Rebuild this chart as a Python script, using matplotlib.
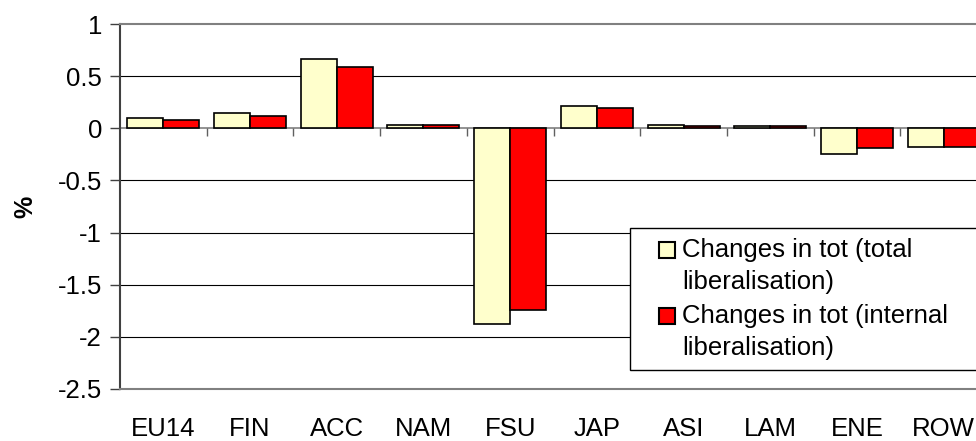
import numpy as np
import matplotlib
matplotlib.use("Agg")
import matplotlib.pyplot as plt
from matplotlib.patches import Rectangle
from matplotlib.legend_handler import HandlerPatch
from matplotlib.container import BarContainer

plt.rcParams['font.family'] = ['Liberation Sans', 'DejaVu Sans']

categories = ["EU14", "FIN", "ACC", "NAM", "FSU", "JAP", "ASI", "LAM", "ENE", "ROW"]
total_lib = [0.10, 0.15, 0.66, 0.03, -1.88, 0.21, 0.03, 0.02, -0.25, -0.18]
internal_lib = [0.08, 0.12, 0.59, 0.03, -1.74, 0.19, 0.02, 0.02, -0.19, -0.18]
series_labels = ["Changes in tot (total\nliberalisation)",
                 "Changes in tot (internal\nliberalisation)"]
yticks = [-2.5, -2, -1.5, -1, -0.5, 0, 0.5, 1]
ytick_labels = ["-2.5", "-2", "-1.5", "-1", "-0.5", "0", "0.5", "1"]

W, H = 976, 441
FS = 18.5
fig = plt.figure(figsize=(W / 100, H / 100), dpi=100)
ax = fig.add_axes([120 / W, (H - 389) / H, 867 / W, 365 / H])

x = np.arange(len(categories))
bw = 0.415
ax.bar(x - bw / 2, total_lib, width=bw, color="#FFFFCC", edgecolor="black",
       linewidth=1.2, label=series_labels[0], zorder=3)
ax.bar(x + bw / 2, internal_lib, width=bw, color="#FF0000", edgecolor="black",
       linewidth=1.2, label=series_labels[1], zorder=3)

ax.set_xlim(-0.5, len(categories) - 0.5)
ax.set_ylim(yticks[0], yticks[-1])

for yv in yticks[1:-1]:
    if yv != 0:
        ax.axhline(yv, color="black", linewidth=0.8, zorder=1)

ax.axhline(0, color="#808080", linewidth=1.2, zorder=2)
bounds = np.arange(0.5, len(categories) - 0.5, 1.0)
tick_len = 8 / (365 / 3.5)
ax.vlines(bounds, 0, -tick_len, color="#606060", linewidth=1.0, zorder=2)

ax.set_yticks(yticks)
ax.set_yticklabels(ytick_labels)
ax.set_xticks(x)
ax.set_xticklabels(categories)
ax.tick_params(axis="y", direction="out", length=7, width=1, color="#404040",
               labelsize=FS, pad=6)
ax.tick_params(axis="x", length=0, labelsize=FS, pad=20.5)

for s in ["top", "bottom", "right"]:
    ax.spines[s].set_color("#808080")
    ax.spines[s].set_linewidth(1.5)
ax.spines["left"].set_color("#404040")
ax.spines["left"].set_linewidth(1.5)

fig.text(25 / W, 1 - 207 / H, "%", rotation=90, ha="center", va="center",
         fontsize=18, fontweight="bold")


def top_square(legend, orig_handle, xdescent, ydescent, width, height, fontsize):
    s = 0.63 * fontsize
    return Rectangle((width - s, 0.67 * fontsize), s, s)


def copy_style(legend_handle, orig_handle):
    legend_handle.update_from(orig_handle.patches[0])
    legend_handle.set_linewidth(1.5)


leg = ax.legend(loc="upper left",
                bbox_to_anchor=(630 / W, 1 - 369 / H, 380 / W, 141 / H),
                bbox_transform=fig.transFigure, mode="expand", borderaxespad=0,
                fancybox=False, frameon=True, edgecolor="black", framealpha=1,
                fontsize=FS, handlelength=1.35, handleheight=0.7,
                handletextpad=0.27, labelspacing=0.4, borderpad=0.4,
                handler_map={BarContainer: HandlerPatch(patch_func=top_square,
                                                        update_func=copy_style)})
leg.get_frame().set_linewidth(1.0)
for t in leg.get_texts():
    t.set_linespacing(1.4)

fig.savefig("out.png", dpi=100)
